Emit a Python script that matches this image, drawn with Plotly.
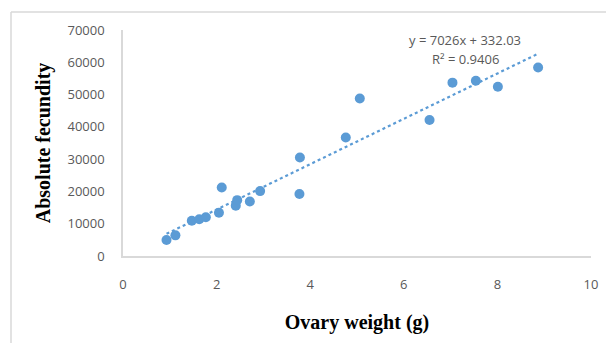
import plotly.graph_objects as go

ovary_weight = [0.93, 1.12, 1.47, 1.63, 1.77, 2.05, 2.11, 2.41, 2.44, 2.71, 2.93,
                3.77, 3.78, 4.76, 5.06, 6.55, 7.04, 7.54, 8.01, 8.87]
fecundity = [4950, 6400, 10900, 11400, 12000, 13400, 21200, 15600, 17300, 16900, 20100,
             19200, 30500, 36700, 48800, 42100, 53700, 54300, 52400, 58400]
slope = 7026
intercept = 332.03
r2 = 0.9406
x_ticks = [0, 2, 4, 6, 8, 10]
y_ticks = [0, 10000, 20000, 30000, 40000, 50000, 60000, 70000]
y_tick_labels = [str(v) for v in y_ticks]

blue = "#5B9BD5"
gray_text = "#595959"
axis_gray = "#D9D9D9"

x0, x1 = min(ovary_weight), max(ovary_weight)
trend_x = [x0, x1]
trend_y = [slope * v + intercept for v in trend_x]

fig = go.Figure()
fig.add_trace(go.Scatter(x=trend_x, y=trend_y, mode="lines",
                         line=dict(color=blue, width=2.2, dash="dot"),
                         hoverinfo="skip", showlegend=False))
fig.add_trace(go.Scatter(x=ovary_weight, y=fecundity, mode="markers",
                         marker=dict(color=blue, size=10, line=dict(width=0)),
                         showlegend=False))

L, R, T, B = 123, 15, 30, 87
W, H = 606, 343
pw, ph = W - L - R, H - T - B

def px_to_paper_x(px):
    return (px - L) / pw

def px_to_paper_y(py):
    return (H - B - py) / ph

fig.update_layout(
    width=W, height=H,
    margin=dict(l=L, r=R, t=T, b=B, autoexpand=False),
    paper_bgcolor="white", plot_bgcolor="white",
    font=dict(family="Open Sans, Liberation Sans, sans-serif", color=gray_text, size=13),
    xaxis=dict(range=[0, 10], tickvals=x_ticks, showgrid=False, zeroline=False,
               automargin=False,
               showline=True, linecolor=axis_gray, linewidth=1.5,
               ticks="outside", ticklen=16, tickcolor="rgba(0,0,0,0)",
               tickfont=dict(size=13, color=gray_text),
               title=dict(text="Ovary weight (g)", standoff=23,
                          font=dict(family="Liberation Serif, Times New Roman, serif",
                                    size=20, color="black", weight="bold"))),
    yaxis=dict(range=[0, 70000], tickvals=y_ticks, ticktext=y_tick_labels,
               showgrid=False, zeroline=False, automargin=False,
               showline=True, linecolor=axis_gray, linewidth=1.5,
               ticks="outside", ticklen=14, tickcolor="rgba(0,0,0,0)",
               tickfont=dict(size=13, color=gray_text),
               title=dict(text="Absolute fecundity", standoff=11,
                          font=dict(family="Liberation Serif, Times New Roman, serif",
                                    size=20, color="black", weight="bold"))),
    shapes=[
        dict(type="line", xref="paper", yref="paper",
             x0=px_to_paper_x(11), x1=px_to_paper_x(607),
             y0=px_to_paper_y(12), y1=px_to_paper_y(12),
             line=dict(color="#D9D9D9", width=1.5)),
        dict(type="line", xref="paper", yref="paper",
             x0=px_to_paper_x(11), x1=px_to_paper_x(11),
             y0=px_to_paper_y(12), y1=px_to_paper_y(344),
             line=dict(color="#D9D9D9", width=1.5)),
    ],
    annotations=[
        dict(text=f"y = {slope}x + {intercept}", xref="x", yref="y",
             x=7.31, y=66900, showarrow=False, xanchor="center", yanchor="middle",
             font=dict(size=13, color=gray_text)),
        dict(text=f"R² = {r2}", xref="x", yref="y",
             x=7.31, y=61000, showarrow=False, xanchor="center", yanchor="middle",
             font=dict(size=13, color=gray_text)),
    ],
)

fig.write_html("out.html", config={"displayModeBar": False},
               post_script="document.body.style.margin='0';document.body.style.overflow='hidden';")
